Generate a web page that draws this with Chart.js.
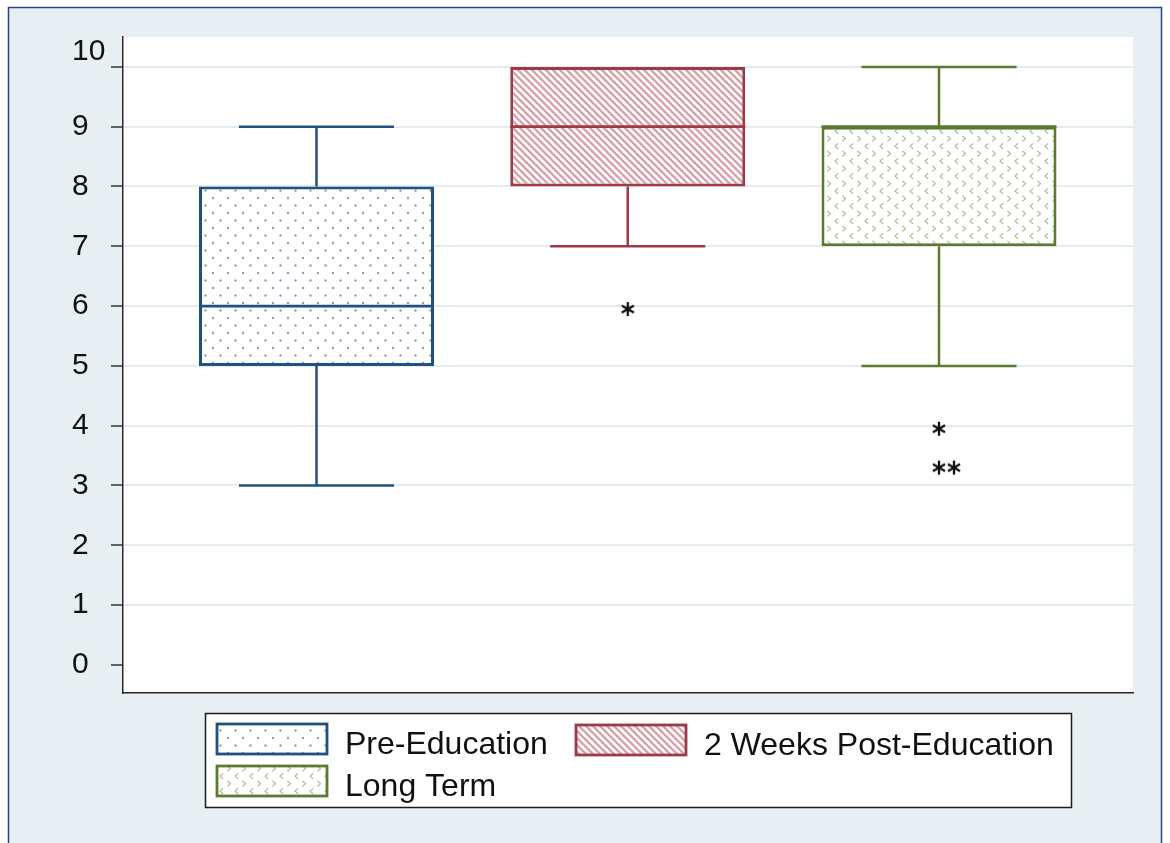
<!DOCTYPE html>
<html>
<head>
<meta charset="utf-8">
<title>Scores by assessment period</title>
<script src="https://cdn.jsdelivr.net/npm/chart.js@4.4.1/dist/chart.umd.min.js"></script>
<style>
  html, body { margin: 0; padding: 0; background: #ffffff; }
  canvas { display: block; }
</style>
</head>
<body>
<canvas id="chart" width="1170" height="843"></canvas>
<script>
// Box plot summary per assessment period
const groups = ['Pre-Education', '2 Weeks Post-Education', 'Long Term'];
const whiskerLow = [3, 7, 5];
const lowerQuartile = [5, 8, 7];
const medians = [6, 9, 9];
const upperQuartile = [8, 10, 9];
const whiskerHigh = [9, 10, 10];
const outliers = [[], [6], [4, 3.35, 3.35]];
const yTicks = [0, 1, 2, 3, 4, 5, 6, 7, 8, 9, 10];

const edgeColors = ['#22507f', '#9e3a46', '#5b7a2f'];
const FONT = "'Liberation Sans', Arial, Helvetica, sans-serif";

// ---- fill patterns -------------------------------------------------------
function makeTile(size, draw) {
  const c = document.createElement('canvas');
  c.width = size; c.height = size;
  const g = c.getContext('2d');
  g.fillStyle = '#ffffff';
  g.fillRect(0, 0, size, size);
  draw(g, size);
  return g.createPattern(c, 'repeat');
}

const dotPattern = makeTile(15, (g) => {
  g.fillStyle = '#8aa2c0';
  [[3, 3], [10.5, 10.5]].forEach(([x, y]) => {
    g.beginPath(); g.arc(x, y, 1.2, 0, Math.PI * 2); g.fill();
  });
});

const hatchPattern = makeTile(7, (g, s) => {
  g.strokeStyle = '#d9a2aa';
  g.lineWidth = 2.4;
  for (let k = -1; k <= 1; k++) {
    g.beginPath();
    g.moveTo(k * s - 1, -1);
    g.lineTo(k * s + s + 1, s + 1);
    g.stroke();
  }
});

const chevronPattern = makeTile(15, (g) => {
  g.strokeStyle = '#a9bf96';
  g.lineWidth = 1.2;
  g.lineCap = 'round';
  g.lineJoin = 'round';
  // '>' on one row, '<' on the next, half a tile apart
  g.beginPath(); g.moveTo(2.8, 1.2); g.lineTo(5.6, 3.6); g.lineTo(2.8, 6); g.stroke();
  g.beginPath(); g.moveTo(12.7, 8.7); g.lineTo(9.9, 11.1); g.lineTo(12.7, 13.5); g.stroke();
});

const fills = [dotPattern, hatchPattern, chevronPattern];

// ---- outlier marker: six-armed asterisk -----------------------------------
const starMark = (() => {
  const c = document.createElement('canvas');
  c.width = 22; c.height = 22;
  const g = c.getContext('2d');
  g.strokeStyle = '#111111';
  g.lineWidth = 2.3;
  const cx = 11, cy = 14, r = 7;
  [90, 30, 150].forEach((deg) => {
    const a = deg * Math.PI / 180;
    g.beginPath();
    g.moveTo(cx - r * Math.cos(a), cy - r * Math.sin(a));
    g.lineTo(cx + r * Math.cos(a), cy + r * Math.sin(a));
    g.stroke();
  });
  return c;
})();

// tied outliers sit side by side
const outlierPoints = [];
outliers.forEach((vals, i) => {
  const seen = {};
  vals.forEach((v) => {
    const n = seen[v] || 0;
    seen[v] = n + 1;
    outlierPoints.push({ x: i + 1 + n * 0.048, y: v });
  });
});

const boxDatasets = groups.map((name, i) => ({
  type: 'bar',
  label: name,
  data: [{ x: i + 1, y: [lowerQuartile[i], upperQuartile[i]] }],
  backgroundColor: fills[i],
  borderColor: edgeColors[i],
  borderWidth: 3,
  borderSkipped: false,
  grouped: false,
  barPercentage: 0.755,
  categoryPercentage: 1.0,
  order: 2
}));

// ---- plugins ---------------------------------------------------------------
const backdrop = {
  id: 'backdrop',
  beforeDraw(chart) {
    const { ctx, chartArea: a, width, height } = chart;
    ctx.save();
    ctx.fillStyle = '#ffffff';
    ctx.fillRect(0, 0, width, height);
    ctx.fillStyle = '#e8eff2';
    ctx.fillRect(8, 7, 1154, height);
    ctx.strokeStyle = '#24448a';
    ctx.lineWidth = 1.5;
    ctx.strokeRect(8.5, 7.5, 1153, height + 20);
    ctx.fillStyle = '#ffffff';
    ctx.fillRect(a.left, a.top, a.right - a.left, a.bottom - a.top);
    ctx.restore();
  }
};

const boxParts = {
  id: 'boxParts',
  afterDatasetsDraw(chart) {
    const { ctx } = chart;
    const y = chart.scales.y;
    ctx.save();
    ctx.lineCap = 'butt';
    groups.forEach((_, i) => {
      const bar = chart.getDatasetMeta(i).data[0];
      if (!bar) return;
      const cx = bar.x;
      const half = bar.width / 2;
      const cap = bar.width * 0.33;
      ctx.strokeStyle = edgeColors[i];
      ctx.lineWidth = 2.5;
      const segs = [];
      if (whiskerHigh[i] > upperQuartile[i]) {
        segs.push([cx, y.getPixelForValue(upperQuartile[i]), cx, y.getPixelForValue(whiskerHigh[i])]);
        segs.push([cx - cap, y.getPixelForValue(whiskerHigh[i]), cx + cap, y.getPixelForValue(whiskerHigh[i])]);
      }
      if (whiskerLow[i] < lowerQuartile[i]) {
        segs.push([cx, y.getPixelForValue(lowerQuartile[i]), cx, y.getPixelForValue(whiskerLow[i])]);
        segs.push([cx - cap, y.getPixelForValue(whiskerLow[i]), cx + cap, y.getPixelForValue(whiskerLow[i])]);
      }
      segs.forEach(([x1, y1, x2, y2]) => {
        ctx.beginPath(); ctx.moveTo(x1, y1); ctx.lineTo(x2, y2); ctx.stroke();
      });
      ctx.lineWidth = 2.8;
      const my = y.getPixelForValue(medians[i]);
      ctx.beginPath(); ctx.moveTo(cx - half, my); ctx.lineTo(cx + half, my); ctx.stroke();
    });
    ctx.restore();
  }
};

const keyBox = {
  id: 'keyBox',
  afterDraw(chart) {
    const { ctx } = chart;
    const frame = { left: 205, top: 713, right: 1071, bottom: 807 };
    const slots = [{ x: 217, y: 724 }, { x: 576, y: 725 }, { x: 217, y: 766 }];
    ctx.save();
    ctx.fillStyle = '#ffffff';
    ctx.fillRect(frame.left, frame.top, frame.right - frame.left, frame.bottom - frame.top);
    ctx.strokeStyle = '#1a1a1a';
    ctx.lineWidth = 1.5;
    ctx.strokeRect(frame.left + 0.5, frame.top + 0.5, frame.right - frame.left, frame.bottom - frame.top);
    ctx.font = '32px ' + FONT;
    ctx.textBaseline = 'alphabetic';
    ctx.textAlign = 'left';
    groups.forEach((_, i) => {
      const ds = chart.data.datasets[i];
      const s = slots[i];
      ctx.fillStyle = ds.backgroundColor;
      ctx.fillRect(s.x, s.y, 110, 30);
      ctx.strokeStyle = ds.borderColor;
      ctx.lineWidth = 2.8;
      ctx.strokeRect(s.x, s.y, 110, 30);
      ctx.fillStyle = '#111111';
      ctx.fillText(ds.label, s.x + 128, s.y + 30);
    });
    ctx.restore();
  }
};

// ---- chart -----------------------------------------------------------------
new Chart(document.getElementById('chart'), {
  type: 'bar',
  data: {
    datasets: [
      ...boxDatasets,
      {
        type: 'scatter',
        label: 'Outliers',
        data: outlierPoints,
        pointStyle: starMark,
        pointRadius: 8,
        order: 1
      }
    ]
  },
  options: {
    responsive: false,
    devicePixelRatio: 1,
    animation: false,
    layout: { padding: { left: 72, top: 37, right: 37, bottom: 150 } },
    plugins: {
      legend: { display: false },
      tooltip: { enabled: false }
    },
    scales: {
      x: {
        type: 'linear',
        offset: false,
        min: 0.3783,
        max: 3.6233,
        afterBuildTicks: (scale) => { scale.ticks = groups.map((_, i) => ({ value: i + 1 })); },
        ticks: { display: false },
        grid: { display: false, drawTicks: false },
        border: { display: true, color: '#2a2a2a', width: 1.5 }
      },
      y: {
        type: 'linear',
        min: -0.47,
        max: 10.5,
        afterBuildTicks: (scale) => { scale.ticks = yTicks.map((v) => ({ value: v })); },
        afterFit: (scale) => { scale.width = 51; },
        ticks: {
          crossAlign: 'far',
          color: '#111111',
          font: { family: FONT, size: 30, lineHeight: 1 },
          callback: (v) => (v === yTicks[yTicks.length - 1] ? [String(v), ''] : String(v))
        },
        grid: {
          color: (c) => (c.tick && c.tick.value === 0 ? 'rgba(0,0,0,0)' : '#e3ecf0'),
          lineWidth: 2,
          tickLength: 12,
          tickColor: '#333333',
          tickWidth: 1.5
        },
        border: { display: true, color: '#2a2a2a', width: 1.5 }
      }
    }
  },
  plugins: [backdrop, boxParts, keyBox]
});
</script>
</body>
</html>
